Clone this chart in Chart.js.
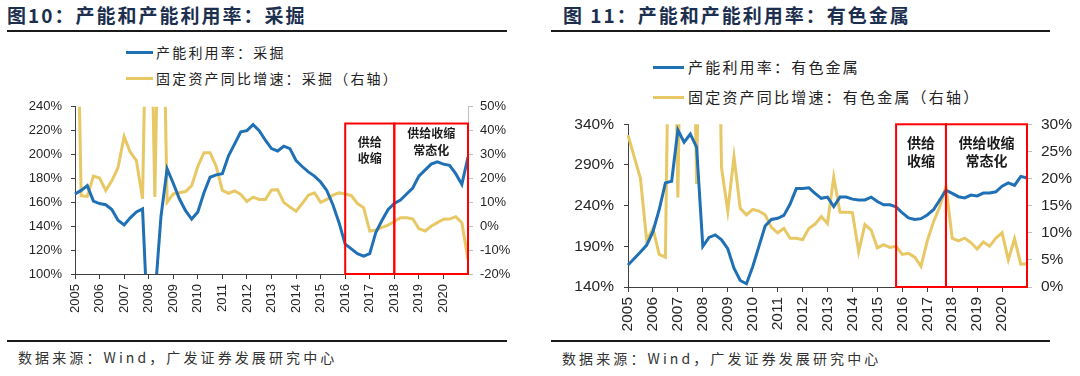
<!DOCTYPE html>
<html>
<head>
<meta charset="utf-8">
<script src="https://cdn.jsdelivr.net/npm/chart.js@4.4.1/dist/chart.umd.min.js"></script>
<style>
  body { margin: 0; width: 1080px; height: 376px; background: #fff; position: relative; overflow: hidden;
         font-family: "Noto Sans CJK SC", sans-serif; }
  .title { position: absolute; top: 2px; font-size: 19px; font-weight: bold; color: #1c2f4f;
           letter-spacing: 2px; white-space: nowrap; line-height: 26px; }
  .rule { position: absolute; height: 2px; background: #1a1a1a; }
  .ln { position: absolute; height: 3px; }
  .lt { position: absolute; color: #222; white-space: nowrap; line-height: 20px; letter-spacing: 2.2px; }
  .src { position: absolute; font-size: 14px; letter-spacing: 3.1px; color: #333; white-space: nowrap; line-height: 20px; }
  canvas { position: absolute; }
</style>
</head>
<body>
<div class="title" style="left:7px">图10：产能和产能利用率：采掘</div>
<div class="rule" style="left:7px;top:30px;width:500px"></div>
<div class="ln" style="left:126px;top:51px;width:27px;background:#1F70B4"></div>
<div class="lt" style="left:156px;top:42px;font-size:14px">产能利用率：采掘</div>
<div class="ln" style="left:126px;top:77px;width:27px;background:#E8C765"></div>
<div class="lt" style="left:156px;top:68px;font-size:14px">固定资产同比增速：采掘（右轴）</div>
<canvas id="c1" width="540" height="245" style="left:0;top:90px"></canvas>
<div class="rule" style="left:7px;top:340px;width:500px"></div>
<div class="src" style="left:18px;top:347px">数据来源：Wind，广发证券发展研究中心</div>

<div class="title" style="left:563px">图 11：产能和产能利用率：有色金属</div>
<div class="rule" style="left:551px;top:30px;width:499px"></div>
<div class="ln" style="left:653px;top:66px;width:31px;background:#1F70B4"></div>
<div class="lt" style="left:688px;top:57px;font-size:15px">产能利用率：有色金属</div>
<div class="ln" style="left:653px;top:96px;width:31px;background:#E8C765"></div>
<div class="lt" style="left:688px;top:87px;font-size:15px">固定资产同比增速：有色金属（右轴）</div>
<canvas id="c2" width="540" height="235" style="left:540px;top:105px"></canvas>
<div class="rule" style="left:551px;top:340px;width:499px"></div>
<div class="src" style="left:562px;top:348px">数据来源：Wind，广发证券发展研究中心</div>

<script>
// quarterly points, 2005-03 .. 2021-03
const quarters = [];
for (let y = 2005; y <= 2021; y++) {
  for (const m of ["03", "06", "09", "12"]) {
    if (y === 2021 && m !== "03") break;
    quarters.push(y + "-" + m);
  }
}

// 采掘
const miningUtil = [
  167, 170, 174, 161, 159, 158, 154, 145, 141, 147,
  152, 154.5, 40, 80, 148, 188, 176, 163, 153, 146,
  152, 168, 181, 183, 184, 199, 209, 219, 220, 225,
  220, 212, 205, 203, 207, 205, 195, 190, 185.5, 182,
  177, 170, 158, 143, 125, 121, 117, 115, 117, 135,
  145, 154, 159, 162, 167, 172, 182, 187, 192, 194,
  192, 191, 184, 175, 198
];
const miningFai = [
  150, 12.8, 12.5, 21, 20.2, 15, 19, 24.5, 37.5, 31,
  27.5, 11.5, 150, 12.2, 150, 10.1, 13.5, 14, 14.5, 17,
  25, 30.8, 30.8, 25, 15, 13.8, 14.8, 13.3, 10.4, 12.2,
  11.2, 11.2, 15.2, 15.3, 10, 8, 6.3, 9.5, 13, 14,
  10, 11.2, 13, 14, 13.5, 12.8, 9.5, 7.8, -2, -1.6,
  -0.5, 0.5, 2, 3.6, 3.6, 3, -1, -2, 0, 1.5,
  2.9, 3, 4, 1.5, -14
];

// 有色金属
const metalUtil = [
  167, 175, 183, 191.5, 208, 235, 268, 270, 333, 318,
  328, 312, 190, 201, 204, 198, 187, 163, 148, 144,
  165, 190, 215, 223, 224.5, 228, 242, 261, 261, 262,
  255, 249, 250.5, 239, 250.5, 250.5, 248, 247, 247, 250.5,
  245, 241, 241, 238.5, 231, 225, 223, 224, 228.6, 235,
  247, 259, 255, 251, 249.5, 253, 252, 255.5, 255.5, 257,
  264, 268, 265, 276, 274
];
const metalFai = [
  28, 24, 20, 8.5, 10.8, 6, 5.5, 90, 16.5, 90,
  90, 19, 90, 90, 90, 22, 14, 24, 14.5, 13.3,
  14.3, 14, 13.3, 11, 10, 10.8, 9, 9, 8.7, 10.8,
  11.6, 13, 11.7, 20.3, 13.8, 13.8, 13.7, 6.5, 11.5, 10.5,
  7.2, 7.8, 7.3, 7.5, 6, 6.2, 5.5, 3.8, 8.5, 12,
  14.8, 18.5, 9, 8.5, 9, 8.2, 7, 8.3, 7.5, 9,
  10, 5, 8.9, 4.2, 4.3
];

const miningTicksL = { min: 100, max: 240, step: 20 };
const miningTicksR = { min: -20, max: 50, step: 10 };
const metalTicksL = { min: 140, max: 340, step: 50 };
const metalTicksR = { min: 0, max: 30, step: 5 };

const BLUE = "#1F70B4";
const GOLD = "#E8C765";
const AXIS = "#404040";
const AXIS_R = "#BFBFBF";
const TICK_FONT = "'Liberation Sans', Arial, sans-serif";

// red boxes with labels, drawn in data space
const boxPlugin = {
  id: "boxes",
  afterDatasetsDraw(chart, args, opts) {
    const ctx = chart.ctx;
    const x = chart.scales.x;
    const top = chart.scales.y1.getPixelForValue(opts.top);
    const bottom = chart.chartArea.bottom;
    ctx.save();
    ctx.strokeStyle = "#FF0000";
    ctx.lineWidth = 2;
    ctx.fillStyle = "#1a1a1a";
    ctx.font = opts.font;
    ctx.textAlign = "center";
    ctx.textBaseline = "middle";
    opts.boxes.forEach(b => {
      const l = x.getPixelForValue(quarters.indexOf(b.from));
      const r = x.getPixelForValue(quarters.indexOf(b.to));
      ctx.strokeRect(l, top, r - l, bottom - top);
      b.text.forEach((t, k) => ctx.fillText(t, (l + r) / 2, top + b.dy[k]));
    });
    ctx.restore();
  }
};

function makeChart(id, util, fai, tl, tr, lay) {
  const font = { family: TICK_FONT, size: lay.fontSize };
  return new Chart(document.getElementById(id), {
    type: "line",
    data: {
      labels: quarters,
      datasets: [
        { data: util, yAxisID: "y", borderColor: BLUE, borderWidth: 3, pointRadius: 0, tension: 0 },
        { data: fai, yAxisID: "y1", borderColor: GOLD, borderWidth: 3, pointRadius: 0, tension: 0 }
      ]
    },
    options: {
      responsive: false,
      animation: false,
      layout: { padding: { top: lay.top, left: 0, right: 0, bottom: 0 } },
      plugins: {
        legend: { display: false },
        tooltip: { enabled: false },
        boxes: lay.boxes
      },
      scales: {
        x: {
          type: "category",
          offset: false,
          grid: {
            drawOnChartArea: false,
            tickLength: 5,
            color: c => (c.index % 4 === 0 && c.index < 64 ? AXIS : "rgba(0,0,0,0)")
          },
          border: { color: AXIS, width: 1 },
          ticks: {
            autoSkip: false,
            minRotation: 90,
            maxRotation: 90,
            padding: 5,
            color: "#262626",
            font: font,
            callback: (v, i) => (i % 4 === 0 && i < 64 ? quarters[i].slice(0, 4) : "")
          },
          afterFit: s => { s.height = lay.xh; }
        },
        y: {
          position: "left",
          min: tl.min,
          max: tl.max,
          grid: { drawOnChartArea: false, tickLength: 4, color: AXIS },
          border: { color: AXIS, width: 1 },
          ticks: { stepSize: tl.step, padding: lay.padL, color: "#262626", font: font, callback: v => v + "%" },
          afterFit: s => { s.width = lay.wl; }
        },
        y1: {
          position: "right",
          min: tr.min,
          max: tr.max,
          grid: { drawOnChartArea: false, tickLength: 5, color: AXIS_R },
          border: { color: AXIS_R, width: 1 },
          ticks: { stepSize: tr.step, padding: lay.padR, color: "#262626", font: font, callback: v => v + "%" },
          afterFit: s => { s.width = lay.wr; }
        }
      }
    },
    plugins: [boxPlugin]
  });
}

makeChart("c1", miningUtil, miningFai, miningTicksL, miningTicksR, {
  top: 5, xh: 61, wl: 75, wr: 72, fontSize: 13, padL: 9, padR: 7,
  boxes: {
    top: 43,
    font: "bold 12px 'Noto Sans CJK SC'",
    boxes: [
      { from: "2016-03", to: "2018-03", text: ["供给", "收缩"], dy: [19, 35] },
      { from: "2018-03", to: "2021-03", text: ["供给收缩", "常态化"], dy: [10, 27] }
    ]
  }
});

makeChart("c2", metalUtil, metalFai, metalTicksL, metalTicksR, {
  top: 5, xh: 53, wl: 88, wr: 53, fontSize: 15.5, padL: 10, padR: 9,
  boxes: {
    top: 30,
    font: "bold 14px 'Noto Sans CJK SC'",
    boxes: [
      { from: "2015-12", to: "2017-12", text: ["供给", "收缩"], dy: [18, 36] },
      { from: "2017-12", to: "2021-03", text: ["供给收缩", "常态化"], dy: [18, 36] }
    ]
  }
});
</script>
</body>
</html>
